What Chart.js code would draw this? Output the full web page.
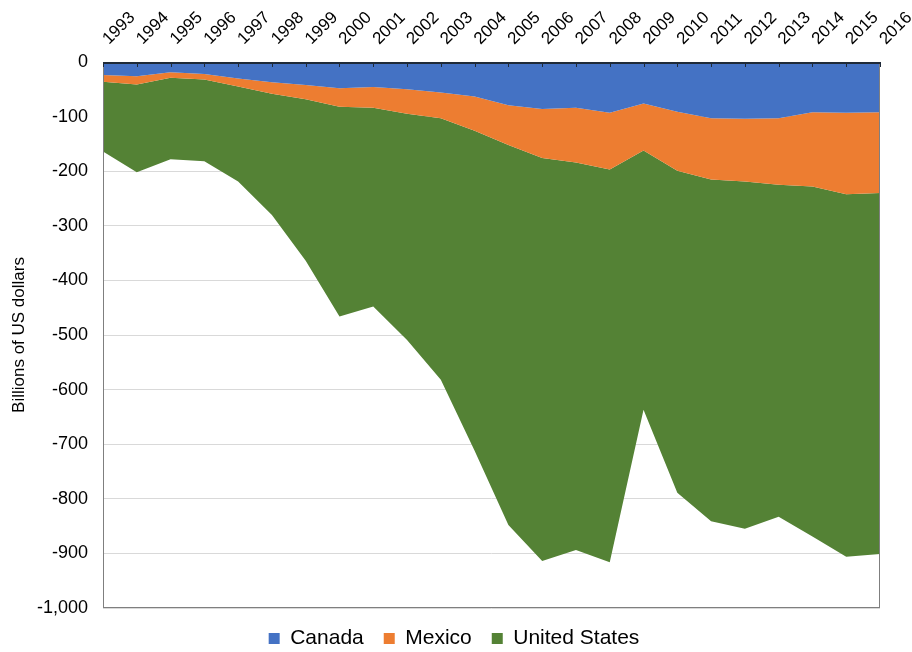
<!DOCTYPE html>
<html>
<head>
<meta charset="utf-8">
<script src="https://cdn.jsdelivr.net/npm/chart.js@4.4.1/dist/chart.umd.min.js"></script>
<style>
html,body{margin:0;padding:0;background:#fff;}
#chart{display:block;}
</style>
</head>
<body>
<canvas id="chart" width="912" height="652"></canvas>
<script>
// years on the top axis
var years = ['1993','1994','1995','1996','1997','1998','1999','2000','2001','2002','2003','2004',
'2005','2006','2007','2008','2009','2010','2011','2012','2013','2014','2015','2016'];

// billions of US dollars
var canada = [-24,-26,-19,-22,-30,-37,-42,-48,-46,-50,-56,-63,
-79,-86,-84,-93,-76,-91,-103,-104,-103,-92,-93,-92];

var mexico = [-12,-15,-10,-10,-15,-21,-26,-34,-38,-45,-47,-63,
-73,-90,-100,-104,-86,-108,-112,-115,-122,-136,-149,-148];

var unitedStates = [-128,-161,-149,-150,-174,-222,-296,-384,-364,-414,-479,-586,
-696,-738,-710,-719,-475,-590,-626,-636,-608,-641,-664,-661];

var colors = ['#4472C4','#ED7D31','#548235'];

/* plot frame + top axis ticks, drawn over the areas */
var framePlugin = {
  id:'frame',
  beforeUpdate:function(chart){
    var lg = chart.legend;
    if(lg && !lg._fitPatched){
      var fit = lg.fit;
      lg.fit = function(){
        fit.call(this);
        this.height = 44;
      };
      lg._fitPatched = true;
    }
  },
  afterLayout:function(chart){
    // legend sits centred on the whole picture, not on the padded box
    chart.legend.left += 14;
    chart.legend.right += 14;
  },
  afterDatasetsDraw:function(chart){
    var c = chart.ctx, a = chart.chartArea, xs = chart.scales.x;
    c.save();
    c.lineWidth = 1;
    c.strokeStyle = '#7f7f7f';
    c.strokeRect(Math.round(a.left)+0.5, Math.round(a.top)+0.5,
      Math.round(a.right-a.left)-1, Math.round(a.bottom-a.top)-1);
    c.strokeStyle = '#1f2a38';
    c.lineWidth = 2;
    c.beginPath();
    c.moveTo(a.left, a.top+1);
    c.lineTo(a.right, a.top+1);
    c.stroke();
    c.lineWidth = 1;
    c.beginPath();
    for(var i=0;i<years.length;i++){
      var x = Math.round(xs.getPixelForTick(i))+0.5;
      c.moveTo(x, a.top);
      c.lineTo(x, a.top+5);
    }
    c.stroke();
    c.restore();
  }
};

new Chart(document.getElementById('chart'),{
  type:'line',
  data:{
    labels:years,
    datasets:[{
      label:'Canada',
      data:canada,
      backgroundColor:colors[0],
      borderColor:colors[0],
      borderWidth:0,
      pointRadius:0,
      fill:'origin'
    },{
      label:'Mexico',
      data:mexico,
      backgroundColor:colors[1],
      borderColor:colors[1],
      borderWidth:0,
      pointRadius:0,
      fill:'-1'
    },{
      label:'United States',
      data:unitedStates,
      backgroundColor:colors[2],
      borderColor:colors[2],
      borderWidth:0,
      pointRadius:0,
      fill:'-1'
    }]
  },
  options:{
    responsive:false,
    animation:false,
    layout:{padding:{left:0,right:32,top:0,bottom:0}},
    plugins:{
      tooltip:{enabled:false},
      legend:{
        position:'bottom',
        labels:{
          color:'#000',
          boxWidth:11,
          boxHeight:11,
          padding:20,
          font:{family:'Liberation Sans, Arial, sans-serif',size:21}
        }
      }
    },
    scales:{
      x:{
        position:'top',
        grid:{display:false},
        border:{display:false},
        ticks:{
          color:'#000',
          autoSkip:false,
          minRotation:45,
          maxRotation:45,
          padding:5,
          labelOffset:17,
          font:{family:'Liberation Sans, Arial, sans-serif',size:17}
        },
        afterFit:function(s){
          s.height = 62;
          s.paddingLeft = 0;
          s.paddingRight = 0;
        }
      },
      y:{
        stacked:true,
        min:-1000,
        max:0,
        grid:{color:'#d9d9d9',drawTicks:false},
        border:{display:false},
        ticks:{
          stepSize:100,
          color:'#000',
          padding:15,
          font:{family:'Liberation Sans, Arial, sans-serif',size:18},
          callback:function(v){ return Number(v).toLocaleString('en-US'); }
        },
        title:{
          display:true,
          text:'Billions of US dollars',
          color:'#000',
          padding:{top:9,bottom:0},
          font:{family:'Liberation Sans, Arial, sans-serif',size:17}
        },
        afterFit:function(s){
          s.width = 103;
          s.paddingTop = 0;
          s.paddingBottom = 0;
        }
      }
    }
  },
  plugins:[framePlugin]
});
</script>
</body>
</html>
